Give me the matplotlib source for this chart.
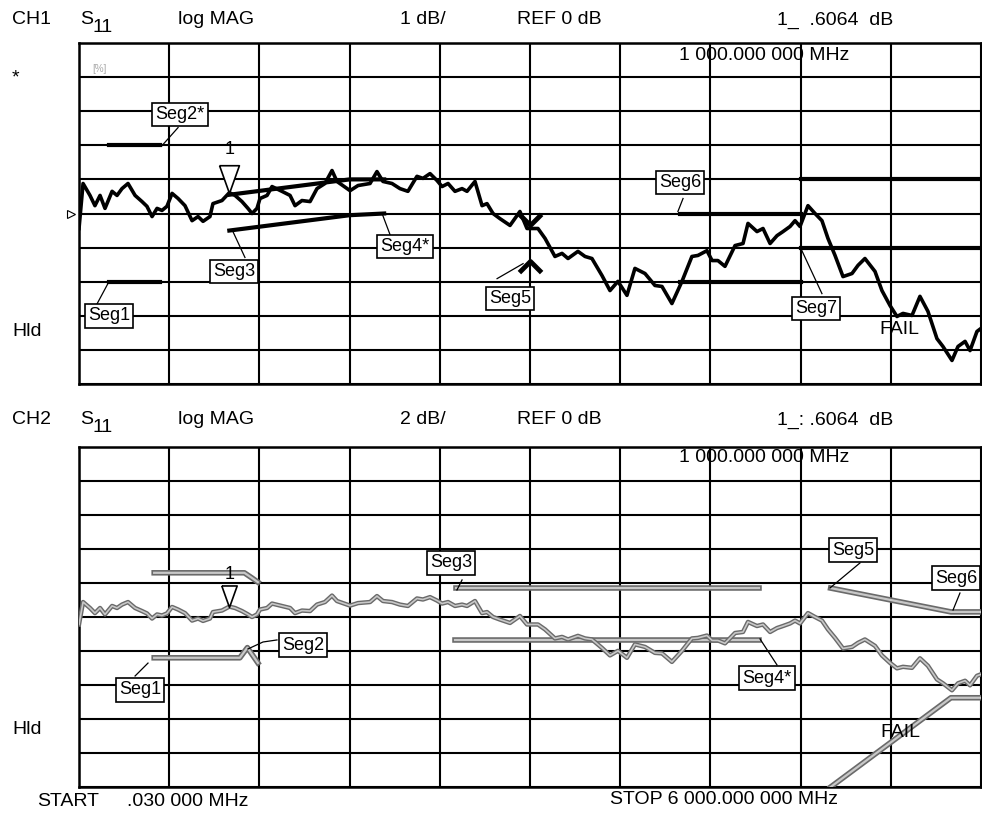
import matplotlib
matplotlib.use("Agg")
import matplotlib.pyplot as plt
import matplotlib.patheffects as pe

plt.rcParams['font.family'] = ['Liberation Sans', 'DejaVu Sans']

# S11 trace (MHz, dB)
freq_mhz = [0, 27, 73, 106, 140, 173, 220, 253, 286, 326, 373, 419, 452, 486, 519, 552,
            585, 619, 659, 705, 752, 792, 825, 871, 891, 951, 1000, 1038, 1084, 1124, 1151,
            1184, 1204, 1251, 1284, 1350, 1404, 1437, 1483, 1537, 1583, 1636, 1683, 1716,
            1803, 1856, 1936, 1982, 2022, 2082, 2135, 2188, 2248, 2288, 2335, 2381, 2415,
            2455, 2501, 2548, 2581, 2634, 2681, 2714, 2754, 2800, 2867, 2933, 2980, 3053,
            3100, 3166, 3213, 3253, 3319, 3366, 3412, 3479, 3532, 3585, 3645, 3698, 3765,
            3831, 3878, 3944, 4011, 4077, 4117, 4177, 4211, 4250, 4297, 4364, 4417, 4450,
            4510, 4550, 4597, 4643, 4683, 4730, 4763, 4796, 4849, 4896, 4942, 4982, 5029,
            5082, 5142, 5182, 5228, 5295, 5341, 5395, 5441, 5481, 5541, 5594, 5647, 5707,
            5747, 5807, 5847, 5894, 5927, 5973, 6000]
s11_db = [-0.44, 0.88, 0.53, 0.23, 0.53, 0.15, 0.65, 0.53, 0.73, 0.88, 0.53, 0.35, 0.21,
          -0.09, 0.15, 0.09, 0.21, 0.59, 0.44, 0.23, -0.21, -0.09, -0.23, -0.09, 0.29, 0.38,
          0.61, 0.53, 0.35, 0.15, 0.0, 0.15, 0.44, 0.53, 0.79, 0.65, 0.53, 0.23, 0.38, 0.35,
          0.73, 0.88, 1.26, 0.94, 0.67, 0.82, 0.88, 1.23, 0.94, 0.88, 0.73, 0.65, 1.09, 1.03,
          1.17, 0.97, 0.79, 0.88, 0.65, 0.73, 0.65, 0.94, 0.23, 0.29, 0.0, -0.15, -0.35, 0.06,
          -0.44, -0.44, -0.73, -1.26, -1.17, -1.32, -1.11, -1.26, -1.32, -1.82, -2.26, -1.99,
          -2.40, -1.61, -1.76, -2.11, -2.14, -2.64, -1.99, -1.26, -1.23, -1.09, -1.38, -1.38,
          -1.55, -0.94, -0.88, -0.29, -0.53, -0.44, -0.88, -0.65, -0.53, -0.38, -0.21, -0.38,
          0.23, 0.0, -0.21, -0.73, -1.23, -1.85, -1.76, -1.52, -1.32, -1.70, -2.26, -2.70,
          -3.02, -2.93, -2.99, -2.43, -2.87, -3.67, -3.90, -4.31, -3.90, -3.75, -4.02, -3.46,
          -3.37]

marker_f = 1000
marker_db = 0.6064

# CH1 limit lines (1 dB/div)
ch1_lim1_f, ch1_lim1_db = [200, 540], [-2.0, -2.0]
ch1_lim2_f, ch1_lim2_db = [200, 540], [2.0, 2.0]
ch1_lim3_f, ch1_lim3_db = [1000, 1800, 2030], [0.55, 1.0, 1.0]
ch1_lim4_f, ch1_lim4_db = [1000, 1800, 2030], [-0.5, -0.05, 0.0]
ch1_pt5_f, ch1_pt5_hi, ch1_pt5_lo = 3000, -0.35, -1.4
ch1_lim6_f, ch1_lim6_hi, ch1_lim6_lo = [4000, 4800], [0.0, 0.0], [-2.0, -2.0]
ch1_lim7_f, ch1_lim7_hi, ch1_lim7_lo = [4800, 6000], [1.0, 1.0], [-1.0, -1.0]

# CH2 limit lines (2 dB/div)
ch2_lim1_f, ch2_lim1_db = [500, 1070, 1120, 1190], [-2.4, -2.4, -1.8, -2.7]
ch2_lim2_f, ch2_lim2_db = [500, 1100, 1150, 1190], [2.6, 2.6, 2.3, 2.05]
ch2_lim3_f, ch2_lim3_db = [2510, 4520], [1.7, 1.7]
ch2_lim4_f, ch2_lim4_db = [2500, 4520], [-1.35, -1.35]
ch2_lim5_f, ch2_lim5_db = [5000, 5800, 6000], [1.7, 0.3, 0.3]
ch2_lim6_f, ch2_lim6_db = [5000, 5800, 6000], [-10.0, -4.75, -4.75]

W, H = 982, 815
fig = plt.figure(figsize=(W / 100, H / 100), dpi=100)
fig.patch.set_facecolor('white')


def px(x, y):
    return x / W, 1 - y / H


def grid_axes(top, bottom, ylim):
    l, t = px(79, top)
    r, b = px(981, bottom)
    ax = fig.add_axes([l, b, r - l, t - b])
    ax.set_xlim(0, 6000)
    ax.set_ylim(-ylim, ylim)
    ax.set_xticks([i * 600 for i in range(11)])
    ax.set_yticks([-ylim + i * ylim / 5 for i in range(11)])
    ax.tick_params(length=0, labelbottom=False, labelleft=False)
    ax.grid(True, color='black', lw=1.5)
    for s in ax.spines.values():
        s.set_linewidth(1.8)
    return ax


def label(ax, txt, x, y, fs=13):
    ax.text(x, y, txt, ha='center', va='center', fontsize=fs, zorder=6,
            bbox=dict(boxstyle='square,pad=0.18', fc='white', ec='black', lw=1.2))


def leader(ax, xs, ys):
    ax.plot(xs, ys, color='black', lw=0.9, zorder=5)


tri = [(-10, 28), (10, 28), (0, 0), (-10, 28)]

# ---------------- CH1 ----------------
ax1 = grid_axes(43, 384, 5)
ax1.plot(freq_mhz, s11_db, color='black', lw=2.6, zorder=4)
lim_kw = dict(color='black', lw=3, zorder=3)
ax1.plot(ch1_lim1_f, ch1_lim1_db, **lim_kw)
ax1.plot(ch1_lim2_f, ch1_lim2_db, **lim_kw)
ax1.plot(ch1_lim3_f, ch1_lim3_db, **lim_kw)
ax1.plot(ch1_lim4_f, ch1_lim4_db, **lim_kw)
ax1.plot(ch1_lim6_f, ch1_lim6_hi, **lim_kw)
ax1.plot(ch1_lim6_f, ch1_lim6_lo, **lim_kw)
ax1.plot(ch1_lim7_f, ch1_lim7_hi, **lim_kw)
ax1.plot(ch1_lim7_f, ch1_lim7_lo, **lim_kw)
ax1.plot(ch1_pt5_f, ch1_pt5_hi, marker=[(-1, 1), (0, 0), (1, 1)], ms=16, mew=3.5,
         mec='black', mfc='none', zorder=5)
ax1.plot(ch1_pt5_f, ch1_pt5_lo, marker=[(-1, -1), (0, 0), (1, -1)], ms=16, mew=3.5,
         mec='black', mfc='none', zorder=5)
ax1.plot(marker_f, marker_db, marker=tri, ms=40, mfc='white', mec='black', mew=1.2, zorder=6)
ax1.annotate('1', (marker_f, marker_db), xytext=(0, 25), textcoords='offset points',
             ha='center', va='bottom', fontsize=13)
ax1.plot(-50, 0, marker='>', ms=6, mfc='white', mec='black', mew=0.8, clip_on=False)

label(ax1, 'Seg1', 200, -3.0)
leader(ax1, [120, 193], [-2.65, -2.05])
label(ax1, 'Seg2*', 672, 2.9)
leader(ax1, [659, 552], [2.52, 1.99])
label(ax1, 'Seg3', 1031, -1.70)
leader(ax1, [1104, 1024], [-1.29, -0.53])
label(ax1, 'Seg4*', 2169, -0.97)
leader(ax1, [2069, 2016], [-0.62, 0.0])
label(ax1, 'Seg5', 2867, -2.49)
leader(ax1, [2781, 2954], [-1.91, -1.47])
label(ax1, 'Seg6', 3998, 0.91)
leader(ax1, [4018, 3984], [0.44, 0.06])
label(ax1, 'Seg7', 4903, -2.79)
leader(ax1, [4942, 4796], [-2.35, -0.97])
ax1.text(5455, -3.4, 'FAIL', ha='center', va='center', fontsize=14, zorder=6)
ax1.text(85, 4.25, '[%]', ha='left', va='center', fontsize=7, color='#aaaaaa')

# ---------------- CH2 ----------------
ax2 = grid_axes(447, 787, 10)
gray = [pe.Stroke(linewidth=3.2, foreground='#6a6a6a'), pe.Normal()]
ax2.plot(freq_mhz, s11_db, color='#c8c8c8', lw=1.2, zorder=4, path_effects=gray)
lim2_kw = dict(color='#c8c8c8', lw=1.6, zorder=3,
               path_effects=[pe.Stroke(linewidth=4, foreground='#6a6a6a'), pe.Normal()])
ax2.plot(ch2_lim1_f, ch2_lim1_db, **lim2_kw)
ax2.plot(ch2_lim2_f, ch2_lim2_db, **lim2_kw)
ax2.plot(ch2_lim3_f, ch2_lim3_db, **lim2_kw)
ax2.plot(ch2_lim4_f, ch2_lim4_db, **lim2_kw)
ax2.plot(ch2_lim5_f, ch2_lim5_db, **lim2_kw)
ax2.plot(ch2_lim6_f, ch2_lim6_db, **lim2_kw)
ax2.plot(marker_f, marker_db, marker=tri, ms=31, mfc='white', mec='black', mew=1.2, zorder=6)
ax2.annotate('1', (marker_f, marker_db), xytext=(0, 17), textcoords='offset points',
             ha='center', va='bottom', fontsize=13)

label(ax2, 'Seg1', 406, -4.29)
leader(ax2, [373, 459], [-3.47, -2.71])
label(ax2, 'Seg2', 1490, -1.65)
leader(ax2, [1317, 1224, 1124], [-1.35, -1.47, -1.88])
label(ax2, 'Seg3', 2474, 3.18)
leader(ax2, [2548, 2514], [2.18, 1.59])
label(ax2, 'Seg4*', 4577, -3.59)
leader(ax2, [4643, 4530], [-2.82, -1.29])
label(ax2, 'Seg5', 5149, 3.94)
leader(ax2, [5195, 4996], [3.18, 1.71])
label(ax2, 'Seg6', 5834, 2.29)
leader(ax2, [5860, 5814], [1.41, 0.41])
ax2.text(5461, -6.82, 'FAIL', ha='center', va='center', fontsize=14, zorder=6)

# ---------------- header / footer text ----------------
for yc, ch, scale, mk in [(20, 'CH1', '1 dB/', '1_  .6064  dB'),
                          (420, 'CH2', '2 dB/', '1_: .6064  dB')]:
    fig.text(*px(12, yc), ch, fontsize=14, va='center')
    fig.text(*px(80, yc), 'S', fontsize=14, va='center')
    fig.text(*px(92, yc + 7), '11', fontsize=14, va='center')
    fig.text(*px(178, yc), 'log MAG', fontsize=14, va='center')
    fig.text(*px(400, yc), scale, fontsize=14, va='center')
    fig.text(*px(517, yc), 'REF 0 dB', fontsize=14, va='center')
    fig.text(*px(777, yc), mk, fontsize=14, va='center')

fig.text(*px(679, 55), '1 000.000 000 MHz', fontsize=14, va='center')
fig.text(*px(679, 457), '1 000.000 000 MHz', fontsize=14, va='center')
fig.text(*px(12, 78), '*', fontsize=14, va='center')
fig.text(*px(12, 331), 'Hld', fontsize=14, va='center')
fig.text(*px(12, 730), 'Hld', fontsize=14, va='center')
fig.text(*px(37, 801), 'START', fontsize=14, va='center')
fig.text(*px(127, 801), '.030 000 MHz', fontsize=14, va='center')
fig.text(*px(610, 799), 'STOP 6 000.000 000 MHz', fontsize=14, va='center')

fig.savefig('out.png', dpi=100)
